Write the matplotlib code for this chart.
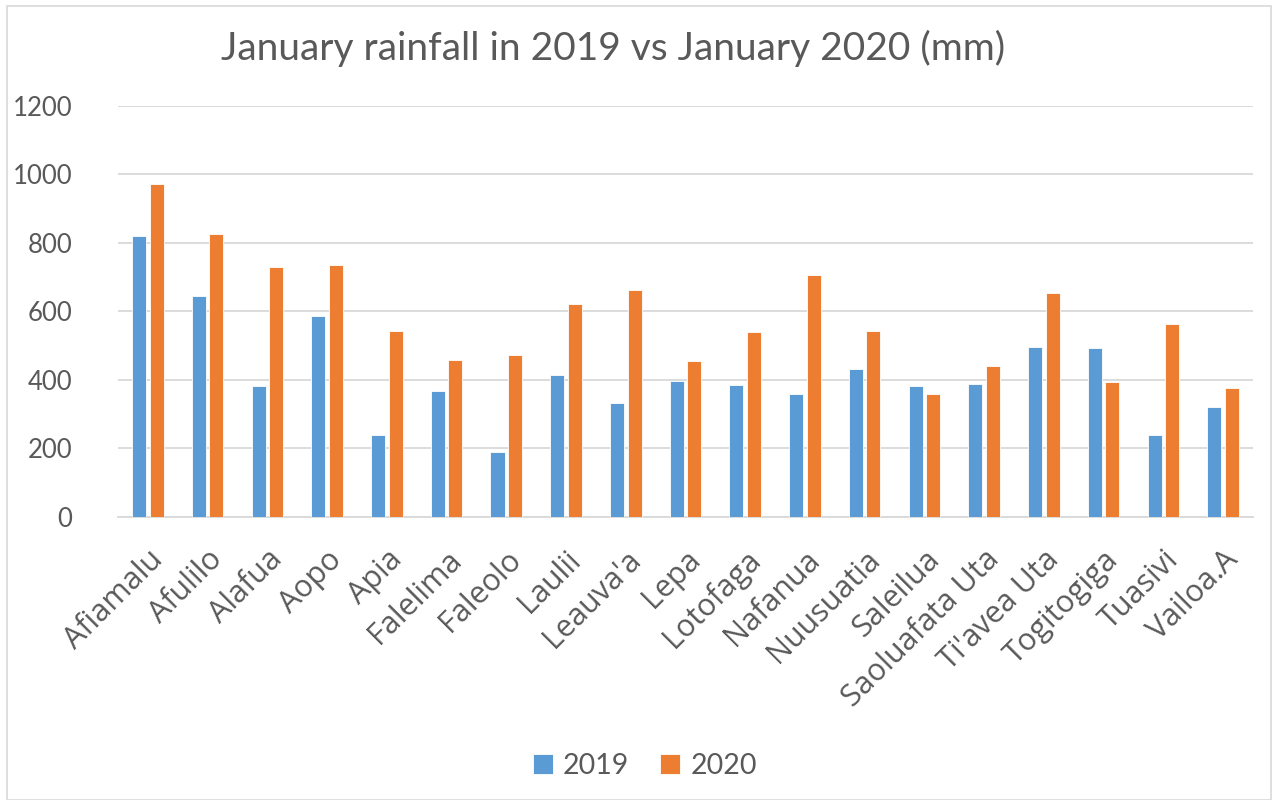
import numpy as np
import matplotlib.pyplot as plt
from matplotlib.patches import Rectangle

stations = ["Afiamalu", "Afulilo", "Alafua", "Aopo", "Apia", "Falelima", "Faleolo",
            "Laulii", "Leauva'a", "Lepa", "Lotofaga", "Nafanua", "Nuusuatia",
            "Saleilua", "Saoluafata Uta", "Ti'avea Uta", "Togitogiga", "Tuasivi",
            "Vailoa.A"]
rain_2019 = [820, 645, 381, 587, 240, 368, 188, 415, 333, 397, 385, 359, 432,
             381, 389, 496, 492, 239, 321]
rain_2020 = [971, 825, 731, 736, 543, 458, 474, 621, 663, 454, 539, 705, 543,
             359, 440, 654, 394, 564, 376]
years = ["2019", "2020"]

text_col = "#595959"
fig = plt.figure(figsize=(12.72, 8), dpi=100)
ax = fig.add_axes([0.0928, 0.354, 0.8922, 0.5135])

x = np.arange(len(stations))
w = 0.235
ax.bar(x - 0.147, rain_2019, w, color="#5B9BD5", edgecolor="white", linewidth=0.6, label=years[0], zorder=3)
ax.bar(x + 0.147, rain_2020, w, color="#ED7D31", edgecolor="white", linewidth=0.6, label=years[1], zorder=3)

ax.set_xlim(-0.5, len(stations) - 0.5)
ax.set_ylim(0, 1200)
ax.set_yticks(range(0, 1201, 200))
ax.yaxis.grid(True, color="#d9d9d9", linewidth=1.3, zorder=0)
for s in ["top", "right", "left"]:
    ax.spines[s].set_visible(False)
ax.spines["bottom"].set_color("#d9d9d9")
ax.spines["bottom"].set_linewidth(1.3)
ax.tick_params(length=0)
ax.tick_params(axis="y", pad=33, labelsize=18.5, labelcolor=text_col)
for t in ax.get_yticklabels():
    t.set_fontfamily("Lato")

ax.set_xticks(x)
ax.set_xticklabels(stations, rotation=45, ha="right", rotation_mode="anchor",
                   fontsize=22, color=text_col, family="Open Sans")
ax.tick_params(axis="x", pad=20)

fig.text(0.482, 0.94, "January rainfall in 2019 vs January 2020 (mm)", ha="center", va="center",
         fontsize=28, color=text_col, family="Lato")

leg = fig.legend(loc="center", bbox_to_anchor=(0.507, 0.042), ncol=2, frameon=False,
                 prop={"family": "Lato", "size": 20.5}, labelcolor=text_col,
                 handlelength=0.7, handleheight=0.7, handletextpad=0.35, columnspacing=1.1)

fig.patches.append(Rectangle((0.0055, 0.0), 0.9935, 0.9925, transform=fig.transFigure,
                             fill=False, edgecolor="#d9d9d9", linewidth=1.2))

fig.savefig("out.png", dpi=100)
